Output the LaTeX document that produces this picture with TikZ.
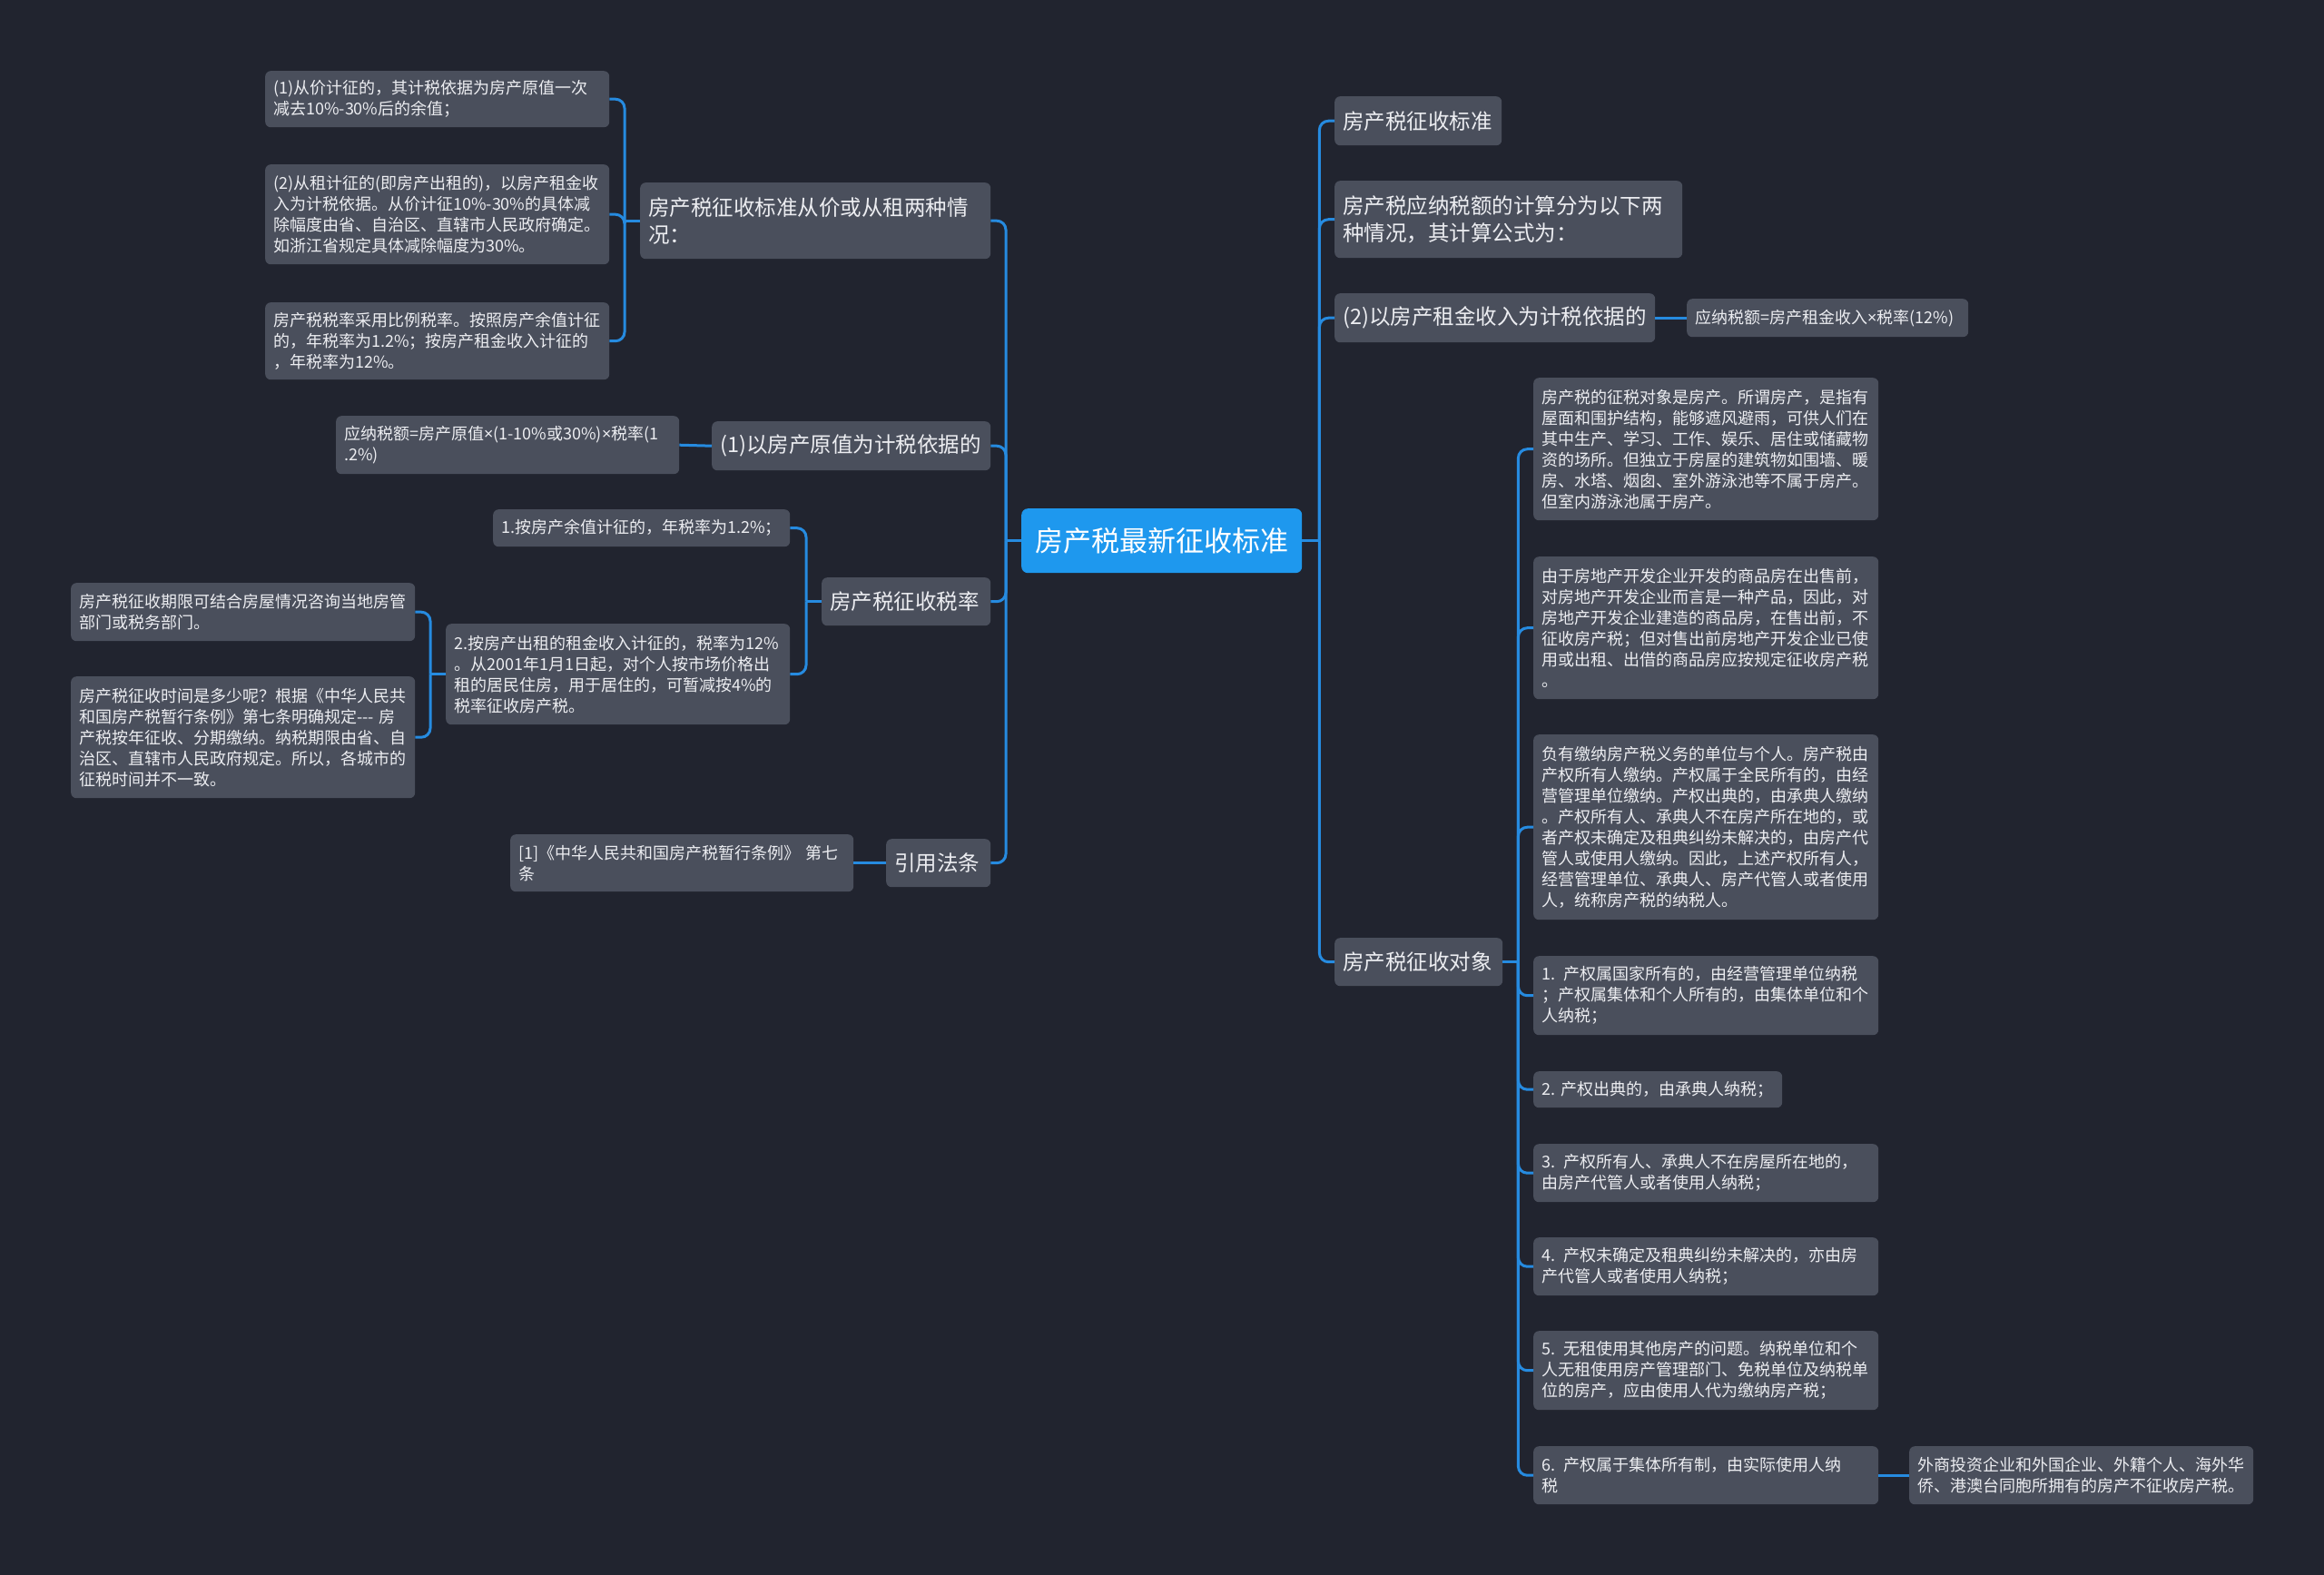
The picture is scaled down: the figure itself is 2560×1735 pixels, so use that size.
\documentclass[tikz,border=0pt]{standalone}
\usepackage{fontspec}
\newfontfamily\cjk{Noto Sans CJK SC}
\newfontfamily\lat{Noto Sans}
\newcommand\tms{{\lat ×}}
\usetikzlibrary{calc}
\definecolor{bg}{RGB}{33,36,47}
\definecolor{nodec}{RGB}{74,79,92}
\definecolor{txt}{RGB}{236,237,241}
\definecolor{linec}{RGB}{38,139,224}
\definecolor{centerc}{RGB}{30,152,238}
\tikzset{
 box/.style={rounded corners=6pt, fill=nodec, text=txt, inner xsep=9pt, inner ysep=3pt, align=left, anchor=north west},
 sm/.style={box, font=\cjk\fontsize{18pt}{23pt}\selectfont},
 md/.style={box, font=\cjk\fontsize{23.5pt}{30pt}\selectfont},
 wh/.style 2 args={text width=#1, minimum height=#2},
 conn/.style={draw=linec, line width=3pt, rounded corners=10pt},
}
\begin{document}
\exhyphenpenalty=10000 \hyphenpenalty=10000
\begin{tikzpicture}[x=1pt,y=-1pt]
\useasboundingbox (0,0) rectangle (2560,1735);
\fill[bg] (0,0) rectangle (2560,1735);

% center
\node[rounded corners=7pt, fill=centerc, text=white, font=\cjk\fontsize{31pt}{36pt}\selectfont, minimum width=309pt, minimum height=71pt, inner sep=0pt, anchor=north west] (C) at (1125,560) {房产税最新征收标准};

% left side
\node[md, wh={368pt}{84pt}] (A1) at (705,201) {房产税征收标准从价或从租两种情\\况：};
\node[sm, wh={361pt}{62pt}] (a1) at (292,78) {(1)从价计征的，其计税依据为房产原值一次\\减去10\%-30\%后的余值；};
\node[sm, wh={361pt}{110pt}] (a2) at (292,181) {(2)从租计征的(即房产出租的)，以房产租金收\\入为计税依据。从价计征10\%-30\%的具体减\\除幅度由省、自治区、直辖市人民政府确定。\\如浙江省规定具体减除幅度为30\%。};
\node[sm, wh={361pt}{85pt}] (a3) at (292,333) {房产税税率采用比例税率。按照房产余值计征\\的，年税率为1.2\%；按房产租金收入计征的\\，年税率为12\%。};
\node[md, wh={289pt}{54pt}] (A2) at (784,464) {(1)以房产原值为计税依据的};
\node[sm, wh={360pt}{64pt}] (a4) at (370,458) {应纳税额=房产原值\tms{}(1-10\%或30\%)\tms{}税率(1\\.2\%)};
\node[md, wh={168pt}{53pt}] (A3) at (905,636) {房产税征收税率};
\node[sm, wh={309pt}{41pt}] (b1) at (543,561) {1.按房产余值计征的，年税率为1.2\%；};
\node[sm, wh={361pt}{111pt}] (b2) at (491,687) {2.按房产出租的租金收入计征的，税率为12\%\\。从2001年1月1日起，对个人按市场价格出\\租的居民住房，用于居住的，可暂减按4\%的\\税率征收房产税。};
\node[sm, wh={361pt}{64pt}] (c1) at (78,642) {房产税征收期限可结合房屋情况咨询当地房管\\部门或税务部门。};
\node[sm, wh={361pt}{134pt}] (c2) at (78,745) {房产税征收时间是多少呢？根据《中华人民共\\和国房产税暂行条例》第七条明确规定--- 房\\产税按年征收、分期缴纳。纳税期限由省、自\\治区、直辖市人民政府规定。所以，各城市的\\征税时间并不一致。};
\node[md, wh={97pt}{53pt}] (A4) at (976,924) {引用法条};
\node[sm, wh={360pt}{63pt}] (d1) at (562,919) {[1]《中华人民共和国房产税暂行条例》 第七\\条};

% right side
\node[md, wh={166pt}{54pt}] (B1) at (1470,106) {房产税征收标准};
\node[md, wh={365pt}{85pt}] (B2) at (1470,199) {房产税应纳税额的计算分为以下两\\种情况，其计算公式为：};
\node[md, wh={335pt}{54pt}] (B3) at (1470,323) {(2)以房产租金收入为计税依据的};
\node[sm, wh={292pt}{42pt}] (e1) at (1858,329) {应纳税额=房产租金收入\tms{}税率(12\%)};
\node[md, wh={167pt}{53pt}] (B4) at (1470,1033) {房产税征收对象};

\node[sm, wh={362pt}{157pt}] (f1) at (1689,416) {房产税的征税对象是房产。所谓房产，是指有\\屋面和围护结构，能够遮风避雨，可供人们在\\其中生产、学习、工作、娱乐、居住或储藏物\\资的场所。但独立于房屋的建筑物如围墙、暖\\房、水塔、烟囱、室外游泳池等不属于房产。\\但室内游泳池属于房产。};
\node[sm, wh={362pt}{157pt}] (f2) at (1689,613) {由于房地产开发企业开发的商品房在出售前，\\对房地产开发企业而言是一种产品，因此，对\\房地产开发企业建造的商品房，在售出前，不\\征收房产税；但对售出前房地产开发企业已使\\用或出租、出借的商品房应按规定征收房产税\\。};
\node[sm, wh={362pt}{204pt}] (f3) at (1689,809) {负有缴纳房产税义务的单位与个人。房产税由\\产权所有人缴纳。产权属于全民所有的，由经\\营管理单位缴纳。产权出典的，由承典人缴纳\\。产权所有人、承典人不在房产所在地的，或\\者产权未确定及租典纠纷未解决的，由房产代\\管人或使用人缴纳。因此，上述产权所有人，\\经营管理单位、承典人、房产代管人或者使用\\人，统称房产税的纳税人。};
\node[sm, wh={362pt}{87pt}] (f4) at (1689,1053) {1. 产权属国家所有的，由经营管理单位纳税\\；产权属集体和个人所有的，由集体单位和个\\人纳税；};
\node[sm, wh={256pt}{40pt}] (f5) at (1689,1180) {2.~产权出典的，由承典人纳税；};
\node[sm, wh={362pt}{64pt}] (f6) at (1689,1260) {3. 产权所有人、承典人不在房屋所在地的，\\由房产代管人或者使用人纳税；};
\node[sm, wh={362pt}{64pt}] (f7) at (1689,1363) {4. 产权未确定及租典纠纷未解决的，亦由房\\产代管人或者使用人纳税；};
\node[sm, wh={362pt}{87pt}] (f8) at (1689,1466) {5. 无租使用其他房产的问题。纳税单位和个\\人无租使用房产管理部门、免税单位及纳税单\\位的房产，应由使用人代为缴纳房产税；};
\node[sm, wh={362pt}{64pt}] (f9) at (1689,1593) {6. 产权属于集体所有制，由实际使用人纳\\税};
\node[sm, wh={361pt}{64pt}] (g1) at (2103,1593) {外商投资企业和外国企业、外籍个人、海外华\\侨、港澳台同胞所拥有的房产不征收房产税。};

% connectors
\coordinate (jC) at ($(C.west)+(-17,0)$);
\draw[conn] (C.west) -- (jC);
\foreach \n in {A1,A2,A3,A4} \draw[conn] (jC) |- (\n.east);
\coordinate (jR) at ($(C.east)+(19,0)$);
\draw[conn] (C.east) -- (jR);
\foreach \n in {B1,B2,B3,B4} \draw[conn] (jR) |- (\n.west);

\coordinate (jA1) at ($(A1.west)+(-17,0)$);
\draw[conn] (A1.west) -- (jA1);
\foreach \n in {a1,a2,a3} \draw[conn] (jA1) |- (\n.east);
\draw[conn] (A2.west) -- (a4.east);
\coordinate (jA3) at ($(A3.west)+(-17,0)$);
\draw[conn] (A3.west) -- (jA3);
\foreach \n in {b1,b2} \draw[conn] (jA3) |- (\n.east);
\coordinate (jb2) at ($(b2.west)+(-17,0)$);
\draw[conn] (b2.west) -- (jb2);
\foreach \n in {c1,c2} \draw[conn] (jb2) |- (\n.east);
\draw[conn] (A4.west) -- (d1.east);

\draw[conn] (B3.east) -- (e1.west);
\coordinate (jB4) at ($(B4.east)+(17,0)$);
\draw[conn] (B4.east) -- (jB4);
\foreach \n in {f1,f2,f3,f4,f5,f6,f7,f8,f9} \draw[conn] (jB4) |- (\n.west);
\draw[conn] (f9.east) -- (g1.west);
\end{tikzpicture}
\end{document}
